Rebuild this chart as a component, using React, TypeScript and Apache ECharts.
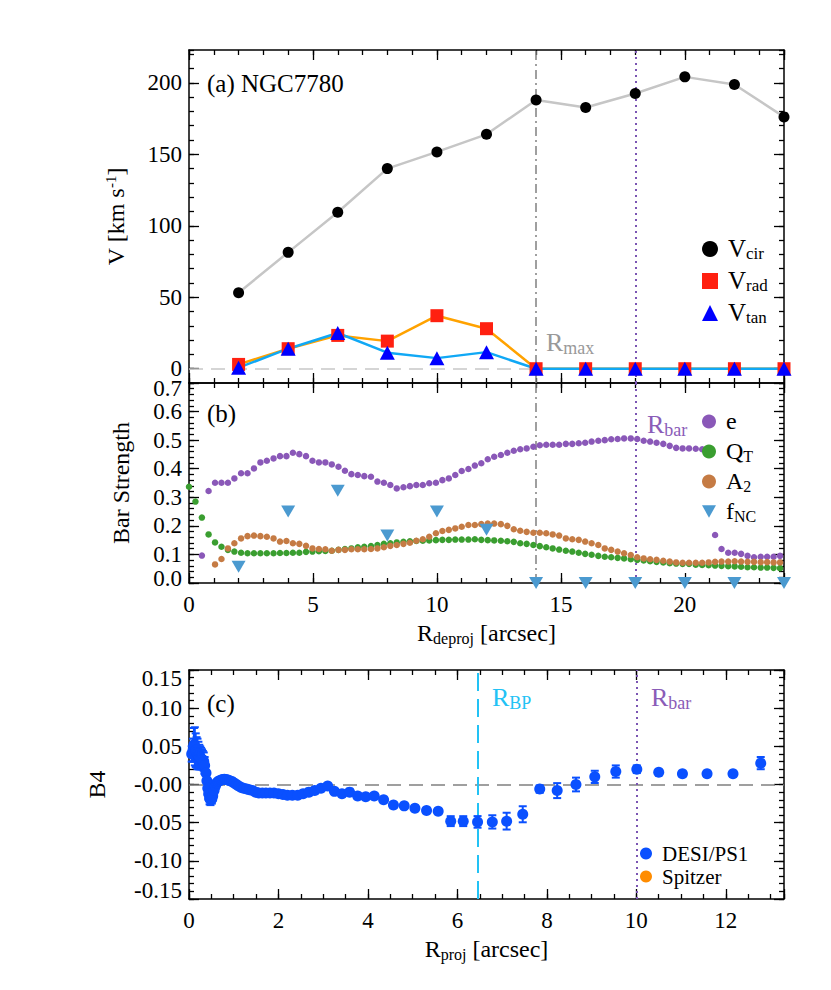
import React, { useEffect, useRef } from "react";
import * as echarts from "echarts";

const FONT = "Liberation Serif, Times New Roman, serif";

// ---------------- Panel (a): kinematics ----------------
const rKin = [2, 4, 6, 8, 10, 12, 14, 16, 18, 20, 22, 24];
const vCir = [53.2, 81.4, 109.5, 140.0, 151.7, 164.0, 188.0, 182.8, 192.6, 204.2, 198.9, 176.2];
const vRad = [3.0, 14.0, 23.3, 19.3, 37.1, 28.0, 0, 0, 0, 0, 0, 0];
const vTan = [0.7, 14.0, 25.0, 11.2, 7.4, 11.6, 0, 0, 0, 0, 0, 0];

// ---------------- Panel (b): bar strength ----------------
const rGrid = [
  0, 0.26, 0.52, 0.79, 1.05, 1.31, 1.57, 1.83, 2.1, 2.36, 2.62, 2.88, 3.14, 3.41, 3.67, 3.93,
  4.19, 4.45, 4.72, 4.98, 5.24, 5.5, 5.76, 6.03, 6.29, 6.55, 6.81, 7.07, 7.34, 7.6, 7.86, 8.12,
  8.38, 8.65, 8.91, 9.17, 9.43, 9.69, 9.96, 10.22, 10.48, 10.74, 11.0, 11.27, 11.53, 11.79, 12.05,
  12.31, 12.58, 12.84, 13.1, 13.36, 13.62, 13.89, 14.15, 14.41, 14.67, 14.93, 15.2, 15.46, 15.72,
  15.98, 16.24, 16.51, 16.77, 17.03, 17.29, 17.55, 17.82, 18.08, 18.34, 18.6, 18.86, 19.13, 19.39,
  19.65, 19.91, 20.17, 20.44, 20.7, 20.96, 21.22, 21.48, 21.75, 22.01, 22.27, 22.53, 22.79, 23.06,
  23.32, 23.58, 23.84,
];
const eVals = [
  null, null,
  0.096, 0.322, 0.351, 0.351, 0.351, 0.366, 0.384, 0.384, 0.401, 0.422,
  0.428, 0.436, 0.444, 0.444, 0.456, 0.451, 0.444, 0.428, 0.422, 0.422,
  0.415, 0.407, 0.393, 0.381, 0.378, 0.374, 0.372, 0.355, 0.351, 0.343,
  0.331, 0.335, 0.339, 0.343, 0.343, 0.349, 0.351, 0.36, 0.366, 0.378,
  0.392, 0.399, 0.411, 0.419, 0.433, 0.442, 0.448, 0.456, 0.463, 0.468,
  0.471, 0.477, 0.482, 0.484, 0.484, 0.484, 0.487, 0.487, 0.489, 0.491,
  0.495, 0.498, 0.5, 0.503, 0.504, 0.506, 0.506, 0.504, 0.498, 0.495,
  0.491, 0.487, 0.48, 0.473, 0.471, 0.471, 0.47, 0.468, 0.465, 0.168,
  0.119, 0.106, 0.106, 0.102, 0.095, 0.09, 0.092, 0.092, 0.092, 0.095,
];
const qtVals = [
  0.337, 0.285, 0.229, 0.17, 0.142, 0.127, 0.116, 0.11, 0.106, 0.104,
  0.104, 0.104, 0.104, 0.104, 0.105, 0.105, 0.106, 0.106, 0.109, 0.11,
  0.111, 0.112, 0.113, 0.116, 0.119, 0.121, 0.125, 0.127, 0.129, 0.133,
  0.137, 0.139, 0.142, 0.144, 0.146, 0.147, 0.148, 0.149, 0.15, 0.151,
  0.151, 0.152, 0.152, 0.152, 0.153, 0.151, 0.15, 0.149, 0.148, 0.146,
  0.144, 0.139, 0.137, 0.133, 0.129, 0.125, 0.121, 0.117, 0.113, 0.11,
  0.106, 0.102, 0.099, 0.095, 0.092, 0.09, 0.088, 0.086, 0.083, 0.081,
  0.079, 0.076, 0.074, 0.072, 0.069, 0.068, 0.067, 0.067, 0.064, 0.063,
  0.062, 0.061, 0.06, 0.059, 0.058, 0.057, 0.055, 0.055, 0.054, 0.054,
  0.053, 0.052,
];
const a2Vals = [
  null, null, null, null,
  0.065, 0.084, 0.121, 0.139, 0.156, 0.164, 0.166, 0.164, 0.162, 0.156,
  0.145, 0.147, 0.139, 0.137, 0.13, 0.121, 0.119, 0.118, 0.113, 0.116,
  0.116, 0.118, 0.118, 0.118, 0.119, 0.121, 0.125, 0.13, 0.133, 0.137,
  0.141, 0.148, 0.153, 0.162, 0.174, 0.182, 0.186, 0.191, 0.197, 0.203,
  0.203, 0.206, 0.208, 0.208, 0.206, 0.2, 0.188, 0.183, 0.179, 0.176,
  0.176, 0.174, 0.17, 0.166, 0.156, 0.153, 0.151, 0.145, 0.139, 0.133,
  0.121, 0.116, 0.11, 0.104, 0.098, 0.09, 0.086, 0.083, 0.081, 0.078,
  0.075, 0.072, 0.071, 0.071, 0.071, 0.071, 0.072, 0.074, 0.075, 0.075,
  0.076, 0.075, 0.074, 0.074, 0.073, 0.073, 0.072, 0.072,
];
const fncVals = [0.057, 0.25, 0.323, 0.166, 0.25, 0.186, 0, 0, 0, 0, 0, 0];
const bInnerTicks = [0.1, 0.2, 0.3, 0.4, 0.5, 0.6];
const bEdgeTicks = [0, 0.7];

// ---------------- Panel (c): B4 ----------------
const rProj = [
  0.06, 0.09, 0.11, 0.13, 0.15, 0.17, 0.19, 0.21, 0.23, 0.25,
  0.27, 0.29, 0.31, 0.33, 0.35, 0.38, 0.4, 0.42, 0.44, 0.46,
  0.48, 0.51, 0.53, 0.56, 0.59, 0.62, 0.65, 0.68, 0.72, 0.75,
  0.79, 0.83, 0.87, 0.91, 0.96, 1.01, 1.06, 1.11, 1.17, 1.22,
  1.29, 1.35, 1.42, 1.49, 1.56, 1.64, 1.72, 1.81, 1.9, 2.0,
  2.1, 2.2, 2.31, 2.43, 2.55, 2.68, 2.81, 2.95, 3.1,
  3.25, 3.42, 3.59, 3.77, 3.95, 4.14, 4.35, 4.57, 4.81, 5.05,
  5.31, 5.57, 5.85, 6.13, 6.45, 6.78, 7.1, 7.46, 7.84, 8.23,
  8.65, 9.07, 9.54, 10.01, 10.5, 11.03, 11.58, 12.16, 12.78,
];
const b4 = [
  0.04, 0.045, 0.052, 0.05, 0.045, 0.042, 0.04, 0.038, 0.036, 0.035,
  0.034, 0.033, 0.032, 0.03, 0.025, 0.015, 0.005, -0.005, -0.012, -0.018,
  -0.02, -0.019, -0.015, -0.008, -0.002, 0.002, 0.004, 0.005, 0.006, 0.0065,
  0.007, 0.0065, 0.006, 0.005, 0.004, 0.002, 0.0, -0.002, -0.004, -0.005,
  -0.006, -0.007, -0.008, -0.01, -0.011, -0.011, -0.011, -0.011, -0.011, -0.012,
  -0.013, -0.014, -0.014, -0.014, -0.012, -0.01, -0.008, -0.005, -0.002,
  -0.009, -0.012, -0.01, -0.015, -0.016, -0.015, -0.02, -0.027, -0.028, -0.031,
  -0.034, -0.035, -0.048, -0.048, -0.049, -0.049, -0.048, -0.039, -0.006, -0.008,
  0.0, 0.01, 0.017, 0.02, 0.016, 0.014, 0.014, 0.014, 0.028,
];
const b4Err = [
  0.01, 0.015, 0.022, 0.025, 0.022, 0.02, 0.02, 0.018, 0.016, 0.015,
  0.014, 0.013, 0.012, 0.012, 0.011, 0.01, 0.01, 0.009, 0.008, 0.008,
  0.007, 0.006, 0.006, 0.005, 0.004, 0.004, 0.003, 0.003, 0.003, 0.003,
  0.003, 0.003, 0.003, 0.003, 0.003, 0.003, 0.003, 0.003, 0.003, 0.003,
  0.003, 0.003, 0.003, 0.003, 0.003, 0.003, 0.003, 0.003, 0.003, 0.003,
  0.003, 0.003, 0.003, 0.003, 0.003, 0.003, 0.003, 0.003, 0.003,
  0.003, 0.003, 0.003, 0.003, 0.003, 0.003, 0.003, 0.003, 0.003, 0.003,
  0.003, 0.003, 0.0065, 0.0065, 0.0076, 0.0087, 0.011, 0.0105, 0.0048, 0.0098,
  0.009, 0.008, 0.008, 0.005, 0.003, 0.003, 0.003, 0.003, 0.008,
];

// reference radii
const rMax = 14;
const rBarDeproj = 18;
const rBP = 6.45;
const rBarProj = 10;

// ---------------- helpers ----------------
const sub = (M: number, S: number) => ({
  m: { fontSize: M, lineHeight: M + 1, verticalAlign: "top", fontFamily: FONT },
  s: { fontSize: S, lineHeight: S, padding: [Math.round(M * 0.55), 0, 0, 0], verticalAlign: "bottom", fontFamily: FONT },
});

const edgeRich = (shift: number) => ({
  n: { fontSize: 23, fontFamily: FONT, color: "#000" },
  t: { fontSize: 23, lineHeight: 23 - 2 * shift, fontFamily: FONT, color: "#000", padding: [2 * shift, 0, 0, 0] },
  b: { fontSize: 23, lineHeight: 23 - 2 * shift, fontFamily: FONT, color: "#000", padding: [0, 0, 2 * shift, 0] },
});

type Spec = {
  grid: number;
  min: number;
  max: number;
  major?: number;
  custom?: number[];
  labelValues?: number[];
  minor: number;
  fmt?: (v: number) => string;
  name?: string;
  nameGap?: number;
  nameRich?: any;
  shift?: number;
};

const TICK = { color: "#000", width: 1.3 };

function makeAxes(dim: "x" | "y", s: Spec) {
  const sides = dim === "x" ? ["bottom", "top"] : ["left", "right"];
  const out: any[] = [];
  sides.forEach((side, i) => {
    const primary = i === 0;
    const major: any = {
      type: "value",
      gridIndex: s.grid,
      position: side,
      min: s.min,
      max: s.max,
      axisLine: { show: true, onZero: false, lineStyle: { color: "#000", width: 1.5 } },
      axisTick: { show: true, inside: true, length: 10, lineStyle: TICK },
      minorTick: { show: false },
      splitLine: { show: false },
      axisPointer: { show: false },
      axisLabel: {
        show: primary && !!s.fmt,
        formatter: s.fmt,
        margin: dim === "x" ? 10 : 7,
        color: "#000",
        fontFamily: FONT,
        fontSize: 23,
        showMinLabel: true,
        showMaxLabel: true,
        hideOverlap: false,
        rich: edgeRich(s.shift ?? 8.5),
      },
    };
    if (s.custom) {
      major.axisTick.customValues = s.custom;
      major.axisLabel.customValues = s.custom;
      major.interval = s.minor;
    } else {
      major.interval = s.major;
    }
    if (s.labelValues) major.axisLabel.customValues = s.labelValues;
    if (primary && s.name) {
      major.name = s.name;
      major.nameLocation = "middle";
      major.nameGap = s.nameGap;
      major.nameRotate = dim === "y" ? 90 : 0;
      major.nameTextStyle = {
        color: "#000",
        fontFamily: FONT,
        fontSize: 24,
        rich: s.nameRich,
      };
    }
    const minor: any = {
      type: "value",
      gridIndex: s.grid,
      position: side,
      min: s.min,
      max: s.max,
      interval: s.minor,
      axisLine: { show: false, onZero: false },
      axisTick: { show: true, inside: true, length: 5, lineStyle: TICK },
      minorTick: { show: false },
      splitLine: { show: false },
      axisLabel: { show: false },
      axisPointer: { show: false },
    };
    out.push(major, minor);
  });
  return out;
}

const near = (v: number, step: number) => Math.abs(v / step - Math.round(v / step)) < 1e-6;

function buildOption() {
  const xAxis = [
    ...makeAxes("x", { grid: 0, min: 0, max: 24, major: 5, minor: 1 }),
    ...makeAxes("x", {
      grid: 1, min: 0, max: 24, major: 5, minor: 1,
      fmt: (v) => (near(v, 5) ? String(Math.round(v)) : ""),
      name: "{m|R}{s|deproj}{m| [arcsec]}", nameGap: 38, nameRich: sub(24, 16),
    }),
    ...makeAxes("x", {
      grid: 2, min: 0, max: 13.3, major: 2, minor: 0.5,
      fmt: (v) => (near(v, 2) && v < 13 ? String(Math.round(v)) : ""),
      name: "{m|R}{s|proj}{m| [arcsec]}", nameGap: 38, nameRich: sub(24, 16),
    }),
  ];
  const bFmt = (v: number) => {
    const t = (Math.round(v * 10) / 10).toFixed(1);
    if (v > 0.69) return "{t|" + t + "}";
    if (v < 0.01) return "{b|" + t + "}";
    return "{n|" + t + "}";
  };
  const yAxis = [
    ...makeAxes("y", {
      grid: 0, min: -10, max: 223, custom: [0, 50, 100, 150, 200], minor: 10,
      fmt: (v) => String(Math.round(v)),
      name: "{m|V [km s}{p|-1}{m|]}", nameGap: 60,
      nameRich: {
        m: { fontSize: 24, lineHeight: 26, fontFamily: FONT },
        p: { fontSize: 15, lineHeight: 15, verticalAlign: "top", fontFamily: FONT },
      },
    }),
    ...makeAxes("y", {
      grid: 1, min: 0, max: 0.7, major: 0.1, minor: 0.02, labelValues: bInnerTicks,
      fmt: bFmt,
      name: "Bar Strength", nameGap: 56,
    }),
    ...makeAxes("y", {
      grid: 2, min: -0.15, max: 0.15, major: 0.05, minor: 0.01,
      fmt: (v) => {
        const r = Math.round(v * 100) / 100;
        const t = Math.abs(r) < 1e-9 ? "-0.00" : r.toFixed(2);
        if (r > 0.145) return "{t|" + t + "}";
        if (r < -0.145) return "{b|" + t + "}";
        return "{n|" + t + "}";
      },
      name: "B4", nameGap: 80,
    }),
    // extra label-only axis for the two edge labels of panel (b)
    {
      type: "value",
      gridIndex: 1,
      position: "left",
      min: 0,
      max: 0.7,
      axisLine: { show: false, onZero: false },
      axisTick: { show: false },
      splitLine: { show: false },
      axisPointer: { show: false },
      axisLabel: {
        show: true,
        customValues: bEdgeTicks,
        formatter: bFmt,
        margin: 7,
        color: "#000",
        fontFamily: FONT,
        fontSize: 23,
        showMinLabel: true,
        showMaxLabel: true,
        rich: edgeRich(5),
      },
    },
  ];

  const zip = (xs: number[], ys: (number | null)[]) =>
    xs.map((x, i) => [x, ys[i]]).filter((p) => p[1] !== null);

  const ML = (data: any[]) => ({
    silent: true,
    z: 1,
    symbol: ["none", "none"],
    label: { show: false },
    emphasis: { disabled: true },
    data,
  });
  const rmaxStyle = { color: "#808080", type: [9, 4, 2, 4], width: 1.5 };
  const rbarStyle = { color: "#7b55b3", type: [2, 4], width: 2 };

  const series: any[] = [
    // ----- panel a -----
    {
      type: "line", name: "cirLine", xAxisIndex: 0, yAxisIndex: 0, symbol: "none",
      data: zip(rKin, vCir), lineStyle: { color: "#c6c6c6", width: 2.5 }, z: 2,
      markLine: ML([
        { yAxis: 0, lineStyle: { color: "#c8c8c8", type: [14, 8], width: 1.5 } },
        { xAxis: rMax, lineStyle: rmaxStyle },
        { xAxis: rBarDeproj, lineStyle: rbarStyle },
      ]),
    },
    {
      type: "line", name: "radLine", xAxisIndex: 0, yAxisIndex: 0, symbol: "none",
      data: zip(rKin, vRad), lineStyle: { color: "#ffa200", width: 2.5 }, z: 2,
    },
    {
      type: "line", name: "tanLine", xAxisIndex: 0, yAxisIndex: 0, symbol: "none",
      data: zip(rKin, vTan), lineStyle: { color: "#10a8f5", width: 2.5 }, z: 2,
    },
    {
      type: "scatter", name: "Vcir", xAxisIndex: 0, yAxisIndex: 0, symbol: "circle", symbolSize: 11,
      data: zip(rKin, vCir), itemStyle: { color: "#000", opacity: 1 }, z: 3,
    },
    {
      type: "scatter", name: "Vrad", xAxisIndex: 0, yAxisIndex: 0, symbol: "rect", symbolSize: 13,
      data: zip(rKin, vRad), itemStyle: { color: "#ff2010", opacity: 1 }, z: 3,
    },
    {
      type: "scatter", name: "Vtan", xAxisIndex: 0, yAxisIndex: 0, symbol: "triangle", symbolSize: [15, 14],
      data: zip(rKin, vTan), itemStyle: { color: "#0000ff", opacity: 1 }, z: 4,
    },
    // ----- panel b -----
    {
      type: "scatter", name: "e", xAxisIndex: 4, yAxisIndex: 4, symbol: "circle", symbolSize: 6.5,
      data: zip(rGrid, eVals), itemStyle: { color: "#8a58b8", opacity: 1 }, z: 3,
      markLine: ML([
        { xAxis: rMax, lineStyle: rmaxStyle },
        { xAxis: rBarDeproj, lineStyle: rbarStyle },
      ]),
    },
    {
      type: "scatter", name: "QT", xAxisIndex: 4, yAxisIndex: 4, symbol: "circle", symbolSize: 6.5,
      data: zip(rGrid, qtVals), itemStyle: { color: "#3a9e30", opacity: 1 }, z: 3,
    },
    {
      type: "scatter", name: "A2", xAxisIndex: 4, yAxisIndex: 4, symbol: "circle", symbolSize: 6.5,
      data: zip(rGrid, a2Vals), itemStyle: { color: "#c57b44", opacity: 1 }, z: 3,
    },
    {
      type: "scatter", name: "fNC", xAxisIndex: 4, yAxisIndex: 4, symbol: "triangle", symbolRotate: 180,
      symbolSize: [14, 12], data: zip(rKin, fncVals), itemStyle: { color: "#4b9ad0", opacity: 1 }, z: 4,
    },
    // ----- panel c -----
    {
      type: "custom", name: "err", xAxisIndex: 8, yAxisIndex: 8,
      data: rProj.map((r, i) => [r, b4[i], b4Err[i]]),
      encode: { x: 0, y: 1 },
      z: 2,
      renderItem: (params: any, api: any) => {
        const x = api.value(0), y = api.value(1), e = api.value(2);
        const p1 = api.coord([x, y + e]);
        const p2 = api.coord([x, y - e]);
        const hw = 4;
        const style = { stroke: "#0a50ff", lineWidth: 2 };
        return {
          type: "group",
          children: [
            { type: "line", shape: { x1: p1[0], y1: p1[1], x2: p2[0], y2: p2[1] }, style },
            { type: "line", shape: { x1: p1[0] - hw, y1: p1[1], x2: p1[0] + hw, y2: p1[1] }, style },
            { type: "line", shape: { x1: p2[0] - hw, y1: p2[1], x2: p2[0] + hw, y2: p2[1] }, style },
          ],
        };
      },
      markLine: ML([
        { yAxis: 0, lineStyle: { color: "#808080", type: [14, 8], width: 1.5 } },
        { xAxis: rBP, lineStyle: { color: "#22c2f5", type: [18, 8], width: 2 } },
        { xAxis: rBarProj, lineStyle: rbarStyle },
      ]),
    },
    {
      type: "scatter", name: "DESI/PS1", xAxisIndex: 8, yAxisIndex: 8, symbol: "circle", symbolSize: 11,
      data: zip(rProj, b4), itemStyle: { color: "#0a50ff", opacity: 1 }, z: 3,
    },
    {
      type: "scatter", name: "Spitzer", xAxisIndex: 8, yAxisIndex: 8, symbol: "circle", symbolSize: 10,
      data: [], itemStyle: { color: "#ff8c00", opacity: 1 }, z: 3,
    },
  ];

  const legA = sub(25, 17);
  const legB = sub(24, 16);
  const legendBase = {
    orient: "vertical",
    selectedMode: false,
    icon: "circle",
    textStyle: { color: "#000", fontFamily: FONT, padding: [0, 0, 0, 5] },
  };
  const downTri = "path://M0,0 L10,0 L5,9 Z";
  const legend = [
    {
      ...legendBase,
      left: 697, top: 226, itemWidth: 16, itemHeight: 16, itemGap: 1,
      data: [
        { name: "Vcir", icon: "circle" },
        { name: "Vrad", icon: "rect" },
        { name: "Vtan", icon: "triangle" },
      ],
      formatter: (n: string) => "{m|V}{s|" + n.slice(1) + "}",
      textStyle: { ...legendBase.textStyle, rich: legA },
    },
    {
      ...legendBase,
      left: 697, top: 400, itemWidth: 14, itemHeight: 14, itemGap: 1,
      data: [
        { name: "e", icon: "circle" },
        { name: "QT", icon: "circle" },
        { name: "A2", icon: "circle" },
        { name: "fNC", icon: downTri },
      ],
      formatter: (n: string) =>
        n === "e" ? "{m|e}{s| }" : "{m|" + n.slice(0, 1) + "}{s|" + n.slice(1) + "}",
      textStyle: { ...legendBase.textStyle, rich: legB },
    },
    {
      ...legendBase,
      left: 635, top: 838, itemWidth: 12, itemHeight: 12, itemGap: 2,
      data: [
        { name: "DESI/PS1", icon: "circle" },
        { name: "Spitzer", icon: "circle" },
      ],
      formatter: (n: string) => "{m|" + n + "}",
      textStyle: {
        ...legendBase.textStyle,
        rich: { m: { fontSize: 21, lineHeight: 23, fontFamily: FONT, color: "#000" } },
      },
    },
  ];

  const lab = (x: number, y: number, text: string, size = 25) => ({
    type: "text",
    x,
    y,
    silent: true,
    style: { text, fill: "#000", font: `${size}px ${FONT}`, verticalAlign: "middle" },
  });
  const rlab = (x: number, y: number, s: string, color: string) => ({
    type: "text",
    x,
    y,
    silent: true,
    style: {
      text: "{m|R}{s|" + s + "}",
      fill: color,
      verticalAlign: "middle",
      rich: {
        m: { fontSize: 26, lineHeight: 27, verticalAlign: "top", fontFamily: FONT, fill: color },
        s: { fontSize: 18, lineHeight: 18, padding: [14, 0, 0, 0], verticalAlign: "bottom", fontFamily: FONT, fill: color },
      },
    },
  });

  const graphic = [
    lab(207, 83, "(a) NGC7780"),
    lab(207, 413, "(b)"),
    lab(207, 703, "(c)"),
    rlab(546, 343, "max", "#999999"),
    rlab(647, 425, "bar", "#8a5cb8"),
    rlab(492, 698, "BP", "#22c2f5"),
    rlab(651, 698, "bar", "#8a5cb8"),
  ];

  return {
    animation: false,
    backgroundColor: "#ffffff",
    textStyle: { fontFamily: FONT },
    grid: [
      { left: 189, top: 50, width: 595, height: 333, outerBoundsMode: "none" },
      { left: 189, top: 383, width: 595, height: 200, outerBoundsMode: "none" },
      { left: 189, top: 670, width: 595, height: 229, outerBoundsMode: "none" },
    ],
    xAxis,
    yAxis,
    legend,
    series,
    graphic,
  };
}

export default function App() {
  const ref = useRef<HTMLDivElement>(null);
  useEffect(() => {
    if (!ref.current) return;
    const chart = echarts.init(ref.current, null, { renderer: "svg" });
    chart.setOption(buildOption() as any);
    return () => chart.dispose();
  }, []);
  return (
    <div
      ref={ref}
      style={{ position: "absolute", left: 0, top: 0, width: 831, height: 990, background: "#fff" }}
    />
  );
}
